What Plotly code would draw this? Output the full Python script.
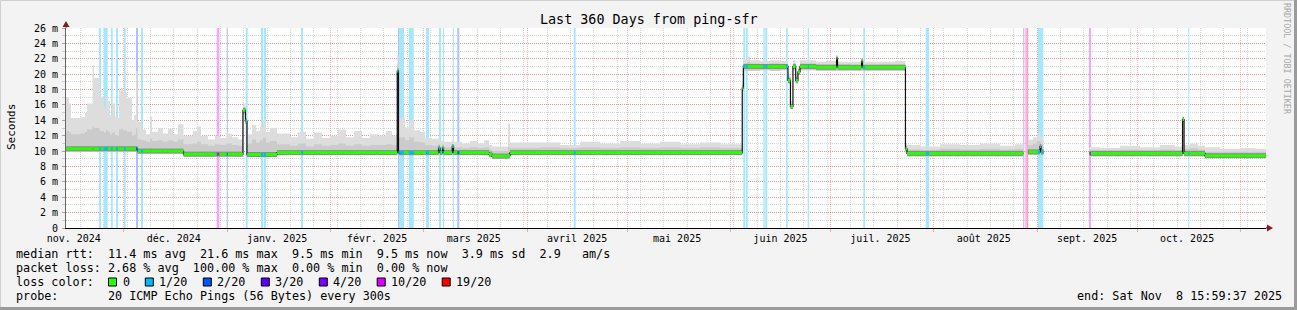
import plotly.graph_objects as go
import pandas as pd

# ------------------------------------------------------------------ data
range_start = "2024-11-13 15:59:37"
range_end = "2025-11-08 15:59:37"

# each sample holds from its time until the next sample time (None = no data)
sample_time = [
    "2024-11-13 16:00", "2024-11-14 14:00", "2024-11-15 04:00", "2024-11-17 21:00",
    "2024-11-19 09:00", "2024-11-19 23:00", "2024-11-21 15:00", "2024-11-22 02:00",
    "2024-11-23 14:00", "2024-11-23 21:00", "2024-11-25 02:00", "2024-11-25 16:00",
    "2024-11-26 06:00", "2024-11-26 21:00", "2024-11-27 11:00", "2024-11-28 09:00",
    "2024-11-28 23:00", "2024-11-29 14:00", "2024-11-30 04:00", "2024-11-30 18:00",
    "2024-12-01 23:00", "2024-12-03 11:00", "2024-12-04 02:00", "2024-12-04 16:00",
    "2024-12-05 03:00", "2024-12-06 11:00", "2024-12-07 16:00", "2024-12-08 21:00",
    "2024-12-09 11:00", "2024-12-11 06:00", "2024-12-12 18:00", "2024-12-14 06:00",
    "2024-12-15 18:00", "2024-12-17 06:00", "2024-12-18 22:00", "2024-12-21 18:00",
    "2024-12-22 23:00", "2024-12-24 04:00", "2024-12-26 06:00", "2024-12-28 09:00",
    "2024-12-29 21:00", "2024-12-31 16:00", "2025-01-02 11:00", "2025-01-04 06:00",
    "2025-01-05 18:00", "2025-01-06 12:00", "2025-01-06 23:00", "2025-01-08 11:00",
    "2025-01-09 16:00", "2025-01-10 21:00", "2025-01-11 18:00", "2025-01-12 16:00",
    "2025-01-13 21:00", "2025-01-15 23:00", "2025-01-19 21:00", "2025-01-22 06:00",
    "2025-01-24 16:00", "2025-01-27 02:00", "2025-01-29 11:00", "2025-01-31 21:00",
    "2025-02-03 06:00", "2025-02-05 16:00", "2025-02-08 02:00", "2025-02-10 11:00",
    "2025-02-12 21:00", "2025-02-15 06:00", "2025-02-17 16:00", "2025-02-19 11:00",
    "2025-02-21 01:00", "2025-02-21 10:00", "2025-02-23 09:00", "2025-02-24 14:00",
    "2025-02-26 02:00", "2025-02-27 21:00", "2025-03-01 09:00", "2025-03-03 11:00",
    "2025-03-05 10:00", "2025-03-05 21:00", "2025-03-06 15:00", "2025-03-06 22:00",
    "2025-03-09 13:00", "2025-03-09 22:00", "2025-03-12 11:00", "2025-03-14 21:00",
    "2025-03-17 06:00", "2025-03-19 02:00", "2025-03-20 14:00", "2025-03-21 11:00",
    "2025-03-26 06:00", "2025-03-26 21:00", "2025-04-04 21:00", "2025-04-10 21:00",
    "2025-04-16 21:00", "2025-04-22 21:00", "2025-04-28 21:00", "2025-05-04 21:00",
    "2025-05-10 21:00", "2025-05-16 21:00", "2025-05-22 21:00", "2025-05-28 21:00",
    "2025-06-04 13:00", "2025-06-04 21:00", "2025-06-06 00:00", "2025-06-06 21:00",
    "2025-06-09 21:00", "2025-06-12 21:00", "2025-06-15 21:00", "2025-06-18 06:00",
    "2025-06-19 00:00", "2025-06-19 18:00", "2025-06-20 14:00", "2025-06-21 06:00",
    "2025-06-21 21:00", "2025-06-26 16:00", "2025-06-29 16:00", "2025-07-02 20:00",
    "2025-07-03 03:00", "2025-07-06 21:00", "2025-07-10 08:00", "2025-07-10 15:00",
    "2025-07-15 21:00", "2025-07-20 09:00", "2025-07-23 12:00", "2025-07-23 23:00",
    "2025-07-27 21:00", "2025-08-02 21:00", "2025-08-08 21:00", "2025-08-14 21:00",
    "2025-08-20 21:00", "2025-08-25 09:00", "2025-08-27 21:00", "2025-08-29 06:00",
    "2025-08-30 18:00", "2025-08-31 23:00", "2025-09-01 21:00", "2025-09-02 04:00",
    "2025-09-02 22:00", "2025-09-16 17:00", "2025-09-19 21:00", "2025-09-25 21:00",
    "2025-10-01 21:00", "2025-10-07 21:00", "2025-10-12 09:00", "2025-10-14 15:00",
    "2025-10-15 02:00", "2025-10-16 21:00", "2025-10-19 06:00", "2025-10-21 09:00",
    "2025-10-25 21:00", "2025-10-31 21:00", "2025-11-05 09:00", "2025-11-08 16:00",
]

median_ms = [
    10.3, 10.3, 10.3, 10.3, 10.3, 10.3, 10.3, 10.3,
    10.3, 10.3, 10.3, 10.3, 10.3, 10.3, 10.3, 10.3,
    10.3, 10.3, 10.3, 10.3, 10.3, 10.3, 10.3, 10.3,
    10.0, 10.0, 10.0, 10.0, 10.0, 10.0, 10.0, 10.0,
    10.0, 10.0, 9.6, 9.6, 9.6, 9.6, 9.6, 9.6,
    9.6, 9.6, 9.6, 9.6, 15.3, 13.9, 9.55, 9.55,
    9.55, 9.55, 9.55, 9.55, 9.55, 9.8, 9.8, 9.8,
    9.8, 9.8, 9.8, 9.8, 9.8, 9.8, 9.8, 9.8,
    9.8, 9.8, 9.8, 9.8, 20.4, 9.8, 9.8, 9.8,
    9.8, 9.8, 9.8, 9.8, 10.4, 9.8, 10.4, 9.8,
    10.6, 9.8, 9.8, 9.8, 9.8, 9.8, 9.6, 9.35,
    9.4, 9.8, 9.8, 9.8, 9.8, 9.8, 9.8, 9.8,
    9.8, 9.8, 9.8, 9.8, 18.2, 21.0, 21.0, 21.0,
    21.0, 21.0, 21.0, 19.2, 15.8, 21.0, 19.2, 20.3,
    21.0, 20.9, 20.9, 22.1, 20.9, 20.9, 21.7, 20.9,
    20.9, 20.9, 10.3, 9.7, 9.7, 9.7, 9.7, 9.7,
    9.7, 9.7, None, 9.9, 9.9, 9.9, 10.6, 9.9,
    None, 9.7, 9.7, 9.7, 9.7, 9.7, 9.7, 14.1,
    9.7, 9.7, 9.7, 9.4, 9.4, 9.4, 9.4, None,
]

smoke_lo = [
    9.9, 9.9, 9.9, 9.9, 9.9, 9.9, 9.9, 9.9,
    9.9, 9.9, 9.9, 9.9, 9.9, 9.9, 9.9, 9.9,
    9.9, 9.9, 9.9, 9.9, 9.9, 9.9, 9.9, 9.9,
    9.7, 9.7, 9.7, 9.7, 9.7, 9.7, 9.7, 9.7,
    9.7, 9.7, 9.3, 9.3, 9.3, 9.3, 9.3, 9.3,
    9.3, 9.3, 9.3, 9.3, 14.8, 13.5, 9.25, 9.25,
    9.25, 9.25, 9.25, 9.25, 9.25, 9.5, 9.5, 9.5,
    9.5, 9.5, 9.5, 9.5, 9.5, 9.5, 9.5, 9.5,
    9.5, 9.5, 9.5, 9.5, 9.9, 9.5, 9.5, 9.5,
    9.5, 9.5, 9.5, 9.5, 9.5, 9.5, 9.5, 9.5,
    9.5, 9.5, 9.5, 9.5, 9.5, 9.5, 9.2, 9.0,
    9.0, 9.5, 9.5, 9.5, 9.5, 9.5, 9.5, 9.5,
    9.5, 9.5, 9.5, 9.5, 17.8, 20.4, 20.4, 20.4,
    20.5, 20.4, 20.5, 18.8, 15.5, 20.5, 18.8, 19.9,
    20.5, 20.4, 20.4, 20.6, 20.4, 20.4, 20.5, 20.4,
    20.4, 20.4, 9.8, 9.3, 9.3, 9.3, 9.3, 9.3,
    9.3, 9.3, None, 9.5, 9.5, 9.5, 9.5, 9.5,
    None, 9.3, 9.3, 9.3, 9.3, 9.3, 9.3, 13.8,
    9.3, 9.3, 9.3, 9.1, 9.1, 9.1, 9.1, None,
]

smoke_mid = [
    12.6, 12.4, 12.2, 12.3, 12.5, 12.8, 13.2, 13.0,
    12.9, 12.6, 12.4, 12.7, 12.5, 12.2, 12.4, 12.1,
    12.0, 12.8, 12.9, 12.7, 12.5, 12.0, 12.2, 13.0,
    11.5, 11.4, 11.2, 11.6, 11.3, 11.4, 11.2, 11.4,
    11.2, 11.5, 10.9, 11.0, 11.2, 10.9, 10.7, 10.9,
    10.8, 11.0, 10.8, 10.7, 15.7, 14.2, 11.0, 11.5,
    11.1, 11.4, 11.7, 11.1, 11.3, 10.9, 10.7, 11.0,
    10.6, 10.9, 10.7, 10.8, 11.0, 10.7, 10.9, 10.7,
    10.8, 10.8, 10.9, 10.8, 21.2, 11.8, 11.4, 11.8,
    11.2, 11.1, 10.8, 10.7, 10.9, 10.6, 10.8, 10.5,
    10.9, 10.5, 10.4, 10.5, 10.4, 10.5, 10.2, 10.0,
    10.5, 10.4, 10.5, 10.4, 10.5, 10.4, 10.5, 10.4,
    10.5, 10.4, 10.5, 10.4, 18.6, 21.4, 21.6, 21.4,
    21.3, 21.4, 21.3, 19.6, 16.1, 21.4, 19.6, 20.7,
    21.4, 21.3, 21.3, 22.2, 21.3, 21.2, 21.8, 21.2,
    21.3, 21.3, 10.7, 10.2, 10.1, 10.3, 10.2, 10.3,
    10.2, 10.3, None, 10.8, 11.0, 11.3, 11.2, 11.0,
    None, 10.1, 10.1, 10.2, 10.1, 10.2, 10.1, 14.3,
    10.3, 10.4, 10.2, 9.9, 9.9, 9.9, 9.9, None,
]

smoke_hi = [
    17.0, 16.2, 14.3, 14.4, 15.0, 16.2, 21.2, 19.5,
    19.0, 17.1, 15.6, 17.1, 16.5, 14.7, 16.2, 14.5,
    14.3, 17.8, 18.2, 17.6, 16.9, 14.0, 14.7, 20.4,
    13.8, 12.8, 12.2, 14.5, 12.5, 13.0, 12.3, 12.9,
    12.2, 13.5, 12.0, 12.6, 13.2, 12.0, 11.5, 12.0,
    11.7, 12.3, 11.8, 11.5, 16.2, 14.6, 12.2, 13.4,
    12.6, 13.2, 14.0, 12.5, 13.0, 12.3, 11.8, 12.5,
    11.6, 12.4, 11.7, 12.0, 12.8, 11.8, 12.6, 11.7,
    12.2, 12.0, 12.6, 12.0, 22.5, 14.3, 13.1, 14.0,
    12.7, 12.5, 11.7, 11.6, 11.8, 11.3, 11.6, 11.2,
    11.5, 11.2, 11.0, 11.3, 11.0, 11.4, 10.8, 10.6,
    13.6, 11.1, 11.1, 10.8, 11.2, 11.0, 11.3, 11.0,
    11.2, 10.9, 11.1, 10.9, 18.9, 21.9, 22.3, 21.8,
    21.7, 21.8, 21.7, 20.0, 16.5, 21.8, 20.0, 21.0,
    21.8, 21.6, 21.7, 22.4, 21.6, 21.6, 22.0, 21.6,
    21.6, 21.7, 11.0, 10.8, 10.6, 10.9, 10.8, 11.0,
    10.7, 10.9, None, 11.5, 11.8, 12.3, 12.0, 11.8,
    None, 10.5, 10.4, 10.7, 10.5, 10.8, 10.6, 14.5,
    10.8, 11.0, 10.7, 10.5, 10.3, 10.4, 10.3, None,
]

# periods with packet loss (background bars + coloured median)
loss_start = [
    "2024-11-23 14:00", "2024-11-24 23:30", "2024-11-27 04:00", "2024-11-28 16:00",
    "2024-12-01 01:36", "2024-12-04 16:00", "2024-12-06 04:00", "2024-12-28 21:00",
    "2024-12-31 21:00", "2025-01-06 13:50", "2025-01-11 04:00", "2025-01-12 01:36",
    "2025-01-23 04:00", "2025-02-21 06:24", "2025-02-21 15:45", "2025-02-24 11:27",
    "2025-03-01 16:00", "2025-03-05 13:36", "2025-03-06 18:24", "2025-03-09 16:15",
    "2025-03-11 01:22", "2025-04-14 23:27", "2025-06-04 20:34", "2025-06-05 16:00",
    "2025-06-10 20:34", "2025-06-11 11:00", "2025-06-17 16:00", "2025-06-24 04:15",
    "2025-07-10 20:34", "2025-07-29 13:50", "2025-08-27 20:34", "2025-08-28 11:00",
    "2025-08-28 21:46", "2025-09-01 04:15", "2025-09-16 13:36", "2025-10-16 08:34",
]
loss_end = [
    "2024-11-24 04:00", "2024-11-26 04:15", "2024-11-27 16:15", "2024-11-29 06:24",
    "2024-12-01 13:50", "2024-12-05 06:24", "2024-12-06 18:24", "2024-12-29 15:45",
    "2025-01-01 04:15", "2025-01-07 04:15", "2025-01-11 20:34", "2025-01-12 16:00",
    "2025-01-23 18:24", "2025-02-21 15:45", "2025-02-23 01:36", "2025-02-25 23:27",
    "2025-03-02 13:36", "2025-03-06 04:00", "2025-03-07 01:36", "2025-03-09 23:27",
    "2025-03-11 15:45", "2025-04-15 13:51", "2025-06-05 11:00", "2025-06-06 04:15",
    "2025-06-11 06:39", "2025-06-12 01:22", "2025-06-18 04:15", "2025-06-24 13:36",
    "2025-07-11 08:48", "2025-07-30 13:36", "2025-08-28 03:46", "2025-08-28 21:46",
    "2025-08-29 08:34", "2025-09-02 20:34", "2025-09-17 04:00", "2025-10-16 15:46",
]
loss_level = [
    "1/20", "1/20", "1/20", "1/20", "1/20", "2/20", "1/20", "10/20",
    "2/20", "1/20", "1/20", "1/20", "1/20", "2/20", "1/20", "1/20",
    "1/20", "1/20", "1/20", "1/20", "2/20", "1/20", "1/20", "1/20",
    "1/20", "1/20", "1/20", "1/20", "1/20", "1/20", "4/20", "10/20",
    "19/20", "1/20", "10/20", "1/20",
]

loss_labels = ["0", "1/20", "2/20", "3/20", "4/20", "10/20", "19/20"]
loss_colors = ["#26ff00", "#00b8ff", "#0059ff", "#5e00ff", "#7e00ff", "#dd00ff", "#ff0000"]

y_max = 26
y_tick_vals = [0, 2, 4, 6, 8, 10, 12, 14, 16, 18, 20, 22, 24, 26]
y_tick_text = ["0", "2 m", "4 m", "6 m", "8 m", "10 m", "12 m", "14 m", "16 m",
               "18 m", "20 m", "22 m", "24 m", "26 m"]

month_starts = ["2024-12-01", "2025-01-01", "2025-02-01", "2025-03-01", "2025-04-01",
                "2025-05-01", "2025-06-01", "2025-07-01", "2025-08-01", "2025-09-01",
                "2025-10-01", "2025-11-01"]
month_label_at = ["2024-11-16", "2024-12-16", "2025-01-16", "2025-02-15", "2025-03-16",
                  "2025-04-16", "2025-05-16", "2025-06-16", "2025-07-16", "2025-08-16",
                  "2025-09-16", "2025-10-16"]
month_labels = ["nov. 2024", "déc. 2024", "janv. 2025", "févr. 2025", "mars 2025",
                "avril 2025", "mai 2025", "juin 2025", "juil. 2025", "août 2025",
                "sept. 2025", "oct. 2025"]

title_text = "Last 360 Days from ping-sfr"
y_title = "Seconds"
side_text = "RRDTOOL / TOBI OETIKER"
stat_lines = [
    "median rtt:  11.4 ms avg  21.6 ms max  9.5 ms min  9.5 ms now  3.9 ms sd  2.9   am/s",
    "packet loss: 2.68 % avg  100.00 % max  0.00 % min  0.00 % now",
    "loss color:",
    "probe:       20 ICMP Echo Pings (56 Bytes) every 300s",
]
end_text = "end: Sat Nov  8 15:59:37 2025"

# ------------------------------------------------------------------ layout constants
W, H = 1297, 310
L, R, T_, B = 66, 31, 28, 82
PW, PH = W - L - R, H - T_ - B
MONO = "DejaVu Sans Mono"
BG = "#f3f3f3"


def px(x):
    return (x - L) / PW


def py(y):
    return (H - B - y) / PH


def nb(s):
    return s.replace(" ", "\u00a0")


def pale(hexcol, a=0.35):
    r, g, b = int(hexcol[1:3], 16), int(hexcol[3:5], 16), int(hexcol[5:7], 16)
    mix = lambda c: round(255 * (1 - a) + c * a)
    return f"rgb({mix(r)},{mix(g)},{mix(b)})"


color_of = dict(zip(loss_labels, loss_colors))
T = list(pd.to_datetime(sample_time))
N = len(T)


def runs(vals):
    out, i = [], 0
    while i < N:
        if vals[i] is None:
            i += 1
            continue
        j = i
        while j + 1 < N and vals[j + 1] is not None:
            j += 1
        if j == N - 1:
            j -= 1
        out.append((i, j))
        i = j + 1
    return out


def band(lo, hi):
    xs, ys = [], []
    for i, j in runs(lo):
        tx, ty, bx, by = [], [], [], []
        for k in range(i, j + 1):
            tx += [T[k], T[k + 1]]
            ty += [hi[k], hi[k]]
        for k in range(j, i - 1, -1):
            bx += [T[k + 1], T[k]]
            by += [lo[k], lo[k]]
        xs += tx + bx + [T[i], None]
        ys += ty + by + [hi[i], None]
    return xs, ys


fig = go.Figure()

# loss background bars
for lvl in loss_labels:
    xs, ys = [], []
    for s, e, l in zip(loss_start, loss_end, loss_level):
        if l != lvl:
            continue
        s, e = pd.Timestamp(s), pd.Timestamp(e)
        xs += [s, e, e, s, s, None]
        ys += [0, 0, y_max, y_max, 0, None]
    if xs:
        fig.add_trace(go.Scatter(x=xs, y=ys, mode="lines", fill="toself",
                                 fillcolor=pale(color_of[lvl]), line=dict(width=0),
                                 hoverinfo="skip", showlegend=False))

# smoke
bx, by = band(smoke_lo, smoke_hi)
fig.add_trace(go.Scatter(x=bx, y=by, mode="lines", fill="toself", fillcolor="#dddddd",
                         line=dict(width=0), hoverinfo="skip", showlegend=False))
bx, by = band(smoke_lo, smoke_mid)
fig.add_trace(go.Scatter(x=bx, y=by, mode="lines", fill="toself", fillcolor="#cbcbcb",
                         line=dict(width=0), hoverinfo="skip", showlegend=False))

# median horizontal segments
seg_x, seg_y = [], []
for i, j in runs(median_ms):
    for k in range(i, j + 1):
        seg_x += [T[k], T[k + 1], None]
        seg_y += [median_ms[k], median_ms[k], None]
fig.add_trace(go.Scatter(x=seg_x, y=seg_y, mode="lines", line=dict(color="#8a8a8a", width=5),
                         hoverinfo="skip", showlegend=False))

# median step line (black transitions)
step_x, step_y = [], []
for i, j in runs(median_ms):
    step_x += T[i:j + 2] + [None]
    step_y += median_ms[i:j + 1] + [median_ms[j], None]
fig.add_trace(go.Scatter(x=step_x, y=step_y, mode="lines", line=dict(color="#111", width=1.2, shape="hv"),
                         hoverinfo="skip", showlegend=False))

fig.add_trace(go.Scatter(x=seg_x, y=seg_y, mode="lines", line=dict(color=loss_colors[0], width=3),
                         hoverinfo="skip", showlegend=False))

# loss-coloured median pieces
for lvl in loss_labels[1:]:
    xs, ys = [], []
    for s, e, l in zip(loss_start, loss_end, loss_level):
        if l != lvl:
            continue
        s, e = pd.Timestamp(s), pd.Timestamp(e)
        for k in range(N - 1):
            if median_ms[k] is None:
                continue
            a, b = max(s, T[k]), min(e, T[k + 1])
            if a < b:
                xs += [a, b, None]
                ys += [median_ms[k], median_ms[k], None]
    if xs:
        fig.add_trace(go.Scatter(x=xs, y=ys, mode="lines", line=dict(color=color_of[lvl], width=3),
                                 hoverinfo="skip", showlegend=False))

# carrier for the label axis
fig.add_trace(go.Scatter(x=[range_start, range_end], y=[None, None], xaxis="x2", mode="lines",
                         hoverinfo="skip", showlegend=False))

MGRID = "rgba(255,0,0,0.30)"
GRID = "rgba(120,120,120,0.30)"

fig.update_layout(
    width=W, height=H, margin=dict(l=L, r=R, t=T_, b=B, pad=0),
    paper_bgcolor=BG, plot_bgcolor="white", showlegend=False,
    font=dict(family=MONO, color="black"),
    xaxis=dict(type="date", range=[range_start, range_end], tickmode="array",
               tickvals=month_starts, showticklabels=False,
               showgrid=True, gridcolor=MGRID, griddash="1px,1px", gridwidth=1,
               ticks="outside", ticklen=3, tickcolor=MGRID,
               showline=True, linecolor="black", linewidth=1, zeroline=False,
               minor=dict(tickmode="linear", tick0="2024-11-18", dtick=7 * 86400000,
                          showgrid=True, gridcolor=GRID, griddash="1px,1px", ticks=""),
               fixedrange=True),
    xaxis2=dict(type="date", overlaying="x", anchor="y", side="bottom",
                range=[range_start, range_end], tickmode="array",
                tickvals=month_label_at, ticktext=month_labels,
                showgrid=False, showline=False, ticks="", zeroline=False,
                ticklabelstandoff=3,
                tickfont=dict(family=MONO, size=10, color="black")),
    yaxis=dict(range=[0, y_max], tickmode="array", tickvals=y_tick_vals, ticktext=y_tick_text,
               showgrid=True, gridcolor=MGRID, griddash="1px,1px",
               ticks="outside", ticklen=3, tickcolor=MGRID,
               minor=dict(tickmode="linear", tick0=0, dtick=1, showgrid=True, gridcolor=GRID,
                          griddash="1px,1px", ticks="outside", ticklen=3, tickcolor=GRID),
               showline=True, linecolor="#666", linewidth=1, zeroline=False,
               tickfont=dict(family=MONO, size=10, color="black"), ticklabelstandoff=2),
)

shapes = []
# frame
shapes.append(dict(type="line", xref="paper", yref="paper", x0=px(0.5), x1=px(W - 0.5), y0=py(0.5), y1=py(0.5),
                   line=dict(color="#cfcfcf", width=1)))
shapes.append(dict(type="line", xref="paper", yref="paper", x0=px(0.5), x1=px(0.5), y0=py(0.5), y1=py(H - 0.5),
                   line=dict(color="#cfcfcf", width=1)))
shapes.append(dict(type="line", xref="paper", yref="paper", x0=px(0), x1=px(W), y0=py(H - 1.5), y1=py(H - 1.5),
                   line=dict(color="#9b9b9b", width=3)))
shapes.append(dict(type="line", xref="paper", yref="paper", x0=px(W - 1.5), x1=px(W - 1.5), y0=py(0), y1=py(H),
                   line=dict(color="#9b9b9b", width=3)))
# axis extensions and arrows
shapes.append(dict(type="line", xref="paper", yref="paper", x0=1, x1=px(1270), y0=0, y1=0,
                   line=dict(color="black", width=1)))
shapes.append(dict(type="line", xref="paper", yref="paper", x0=0, x1=0, y0=1, y1=py(23),
                   line=dict(color="#666", width=1)))
shapes.append(dict(type="path", xref="paper", yref="paper",
                   path=f"M {px(1267)} {py(224.5)} L {px(1273)} {py(228)} L {px(1267)} {py(231.5)} Z",
                   fillcolor="#8b1a1a", line=dict(width=0)))
shapes.append(dict(type="path", xref="paper", yref="paper",
                   path=f"M {px(62.5)} {py(27)} L {px(66)} {py(21)} L {px(69.5)} {py(27)} Z",
                   fillcolor="#8b1a1a", line=dict(width=0)))

annotations = []
annotations.append(dict(text=nb(title_text), xref="paper", yref="paper", x=px(648.5), y=py(19),
                        xanchor="center", yanchor="middle", showarrow=False,
                        font=dict(family=MONO, size=13.4, color="black")))
annotations.append(dict(text=y_title, xref="paper", yref="paper", x=px(11), y=py(127),
                        xanchor="center", yanchor="middle", showarrow=False, textangle=-90,
                        font=dict(family=MONO, size=11, color="black")))
annotations.append(dict(text=nb(side_text), xref="paper", yref="paper", x=px(1287), y=py(59),
                        xanchor="center", yanchor="middle", showarrow=False, textangle=90,
                        font=dict(family=MONO, size=8.4, color="#a8a8a8")))
line_y = [254, 268, 282, 296]
for txt, yy in zip(stat_lines, line_y):
    annotations.append(dict(text=nb(txt), xref="paper", yref="paper", x=px(16), y=py(yy),
                            xanchor="left", yanchor="middle", showarrow=False,
                            borderpad=0, borderwidth=0,
                            font=dict(family=MONO, size=11.75, color="black")))
annotations.append(dict(text=nb(end_text), xref="paper", yref="paper", x=px(1282), y=py(296),
                        xanchor="right", yanchor="middle", showarrow=False, borderpad=0, borderwidth=0,
                        font=dict(family=MONO, size=11.75, color="black")))

# loss colour legend boxes
box_left = [108.5, 145.3, 203.3, 261.3, 319.3, 377.2, 442.2]
for bl, lab, col in zip(box_left, loss_labels, loss_colors):
    shapes.append(dict(type="rect", xref="paper", yref="paper", x0=px(bl), x1=px(bl + 8),
                       y0=py(278), y1=py(286), fillcolor=col, line=dict(color="black", width=1)))
    annotations.append(dict(text=nb(lab), xref="paper", yref="paper", x=px(bl + 14), y=py(282),
                            xanchor="left", yanchor="middle", showarrow=False, borderpad=0, borderwidth=0,
                            font=dict(family=MONO, size=11.75, color="black")))

fig.update_layout(shapes=shapes, annotations=annotations)
fig.write_html("out.html")
